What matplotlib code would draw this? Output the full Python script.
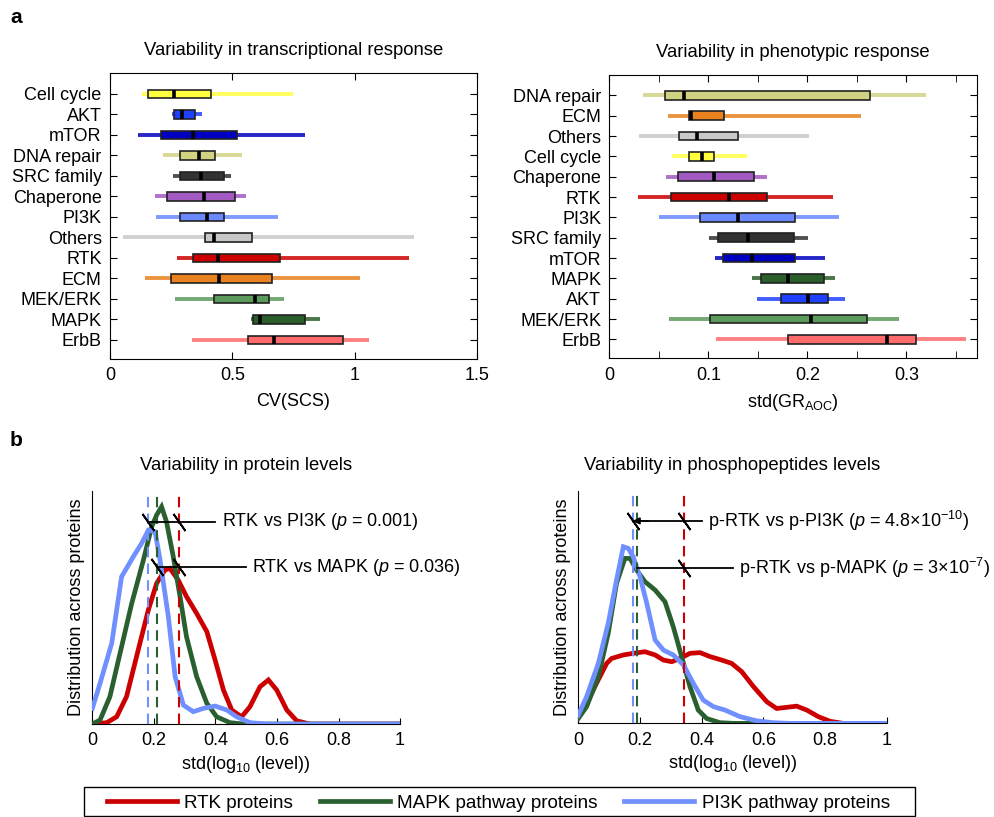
import matplotlib.pyplot as plt
from matplotlib.lines import Line2D
from matplotlib.patches import Rectangle

plt.rcParams['font.family'] = ['Liberation Sans', 'DejaVu Sans']
plt.rcParams['mathtext.fontset'] = 'custom'
plt.rcParams['mathtext.rm'] = 'Liberation Sans'
plt.rcParams['mathtext.it'] = 'Liberation Sans:italic'

# ---- panel a: transcriptional variability (CV(SCS)) ----
tr_groups = ['Cell cycle', 'AKT', 'mTOR', 'DNA repair', 'SRC family', 'Chaperone', 'PI3K',
             'Others', 'RTK', 'ECM', 'MEK/ERK', 'MAPK', 'ErbB']
tr_lo = [0.129, 0.252, 0.114, 0.218, 0.256, 0.185, 0.189, 0.054, 0.274, 0.142, 0.267, 0.578, 0.335]
tr_q1 = [0.154, 0.260, 0.210, 0.285, 0.285, 0.232, 0.285, 0.387, 0.341, 0.251, 0.425, 0.586, 0.563]
tr_med = [0.260, 0.293, 0.338, 0.365, 0.372, 0.384, 0.398, 0.426, 0.440, 0.447, 0.594, 0.612, 0.672]
tr_q3 = [0.414, 0.346, 0.518, 0.431, 0.466, 0.512, 0.466, 0.582, 0.695, 0.662, 0.651, 0.797, 0.954]
tr_hi = [0.747, 0.376, 0.796, 0.538, 0.495, 0.554, 0.685, 1.244, 1.221, 1.020, 0.710, 0.857, 1.060]

# ---- panel a: phenotypic variability (std(GR_AOC)) ----
ph_groups = ['DNA repair', 'ECM', 'Others', 'Cell cycle', 'Chaperone', 'RTK', 'PI3K',
             'SRC family', 'mTOR', 'MAPK', 'AKT', 'MEK/ERK', 'ErbB']
ph_lo = [0.034, 0.0595, 0.030, 0.063, 0.0575, 0.0286, 0.0505, 0.101, 0.107, 0.144, 0.149, 0.060, 0.1076]
ph_q1 = [0.056, 0.080, 0.070, 0.080, 0.069, 0.0626, 0.092, 0.110, 0.115, 0.1527, 0.1736, 0.102, 0.1806]
ph_med = [0.0757, 0.0827, 0.0885, 0.0935, 0.1056, 0.1208, 0.130, 0.140, 0.1436, 0.1806, 0.2005, 0.2038, 0.280]
ph_q3 = [0.263, 0.116, 0.130, 0.106, 0.146, 0.159, 0.187, 0.186, 0.187, 0.217, 0.221, 0.2607, 0.3094]
ph_hi = [0.320, 0.254, 0.202, 0.139, 0.159, 0.226, 0.2324, 0.2005, 0.218, 0.228, 0.2385, 0.293, 0.360]

group_colors = {
    'Cell cycle': '#ffff40', 'AKT': '#2040ff', 'mTOR': '#0000c0', 'DNA repair': '#d2d283',
    'SRC family': '#333333', 'Chaperone': '#a359c2', 'PI3K': '#6a88ff', 'Others': '#c8c8c8',
    'RTK': '#cc0000', 'ECM': '#e8811e', 'MEK/ERK': '#5c9a5c', 'MAPK': '#2a5e2a', 'ErbB': '#ff6a6a',
}

# ---- panel b: densities, protein levels ----
prot_rtk_x = [0, 0.047, 0.079, 0.111, 0.149, 0.182, 0.209, 0.236, 0.252, 0.279, 0.306, 0.339, 0.372,
              0.399, 0.426, 0.453, 0.485, 0.512, 0.545, 0.572, 0.599, 0.632, 0.664, 0.707, 1.0]
prot_rtk_y = [0, 0.006, 0.031, 0.117, 0.317, 0.489, 0.603, 0.660, 0.667, 0.617, 0.546, 0.474, 0.396,
              0.274, 0.146, 0.060, 0.031, 0.074, 0.160, 0.189, 0.146, 0.060, 0.014, 0, 0]
prot_mapk_x = [0, 0.025, 0.057, 0.090, 0.128, 0.166, 0.193, 0.209, 0.225, 0.241, 0.263, 0.285, 0.306,
               0.339, 0.372, 0.404, 0.447, 0.490, 1.0]
prot_mapk_y = [0, 0.017, 0.117, 0.303, 0.517, 0.703, 0.846, 0.896, 0.931, 0.867, 0.717, 0.546, 0.374,
               0.203, 0.089, 0.031, 0.006, 0, 0]
prot_pi3k_x = [0, 0.025, 0.063, 0.095, 0.133, 0.160, 0.182, 0.204, 0.220, 0.247, 0.269, 0.296, 0.328,
               0.361, 0.399, 0.437, 0.469, 0.512, 0.567, 1.0]
prot_pi3k_y = [0.067, 0.174, 0.346, 0.631, 0.717, 0.774, 0.831, 0.824, 0.703, 0.460, 0.203, 0.081, 0.053,
               0.067, 0.077, 0.060, 0.031, 0.006, 0, 0]
prot_means = [0.280, 0.209, 0.182]  # RTK, MAPK, PI3K

# ---- panel b: densities, phosphopeptide levels ----
phos_rtk_x = [0, 0.027, 0.059, 0.092, 0.108, 0.146, 0.178, 0.216, 0.249, 0.276, 0.303, 0.330, 0.362,
              0.395, 0.427, 0.465, 0.497, 0.530, 0.568, 0.611, 0.643, 0.676, 0.708, 0.741, 0.778,
              0.816, 0.859, 1.0]
phos_rtk_y = [0.036, 0.086, 0.172, 0.258, 0.279, 0.294, 0.301, 0.308, 0.294, 0.272, 0.265, 0.279, 0.301,
              0.304, 0.287, 0.272, 0.258, 0.222, 0.158, 0.093, 0.064, 0.069, 0.074, 0.057, 0.029,
              0.009, 0, 0]
phos_mapk_x = [0, 0.027, 0.065, 0.097, 0.124, 0.151, 0.168, 0.189, 0.216, 0.249, 0.281, 0.308, 0.335,
               0.362, 0.389, 0.416, 0.459, 0.503, 1.0]
phos_mapk_y = [0.021, 0.072, 0.200, 0.387, 0.602, 0.709, 0.709, 0.659, 0.609, 0.573, 0.523, 0.415, 0.287,
               0.158, 0.057, 0.021, 0.003, 0, 0]
phos_pi3k_x = [0, 0.027, 0.065, 0.097, 0.124, 0.146, 0.162, 0.178, 0.200, 0.222, 0.249, 0.276, 0.308,
               0.341, 0.373, 0.405, 0.438, 0.476, 0.524, 0.578, 0.632, 0.686, 1.0]
phos_pi3k_y = [0.036, 0.115, 0.258, 0.430, 0.616, 0.759, 0.752, 0.716, 0.630, 0.516, 0.358, 0.315, 0.294,
               0.251, 0.172, 0.100, 0.072, 0.057, 0.029, 0.011, 0.003, 0, 0]
phos_means = [0.343, 0.191, 0.176]

curve_colors = ['#cc0000', '#2a6030', '#7090ff']
legend_labels = ['RTK proteins', 'MAPK pathway proteins', 'PI3K pathway proteins']

FS = 13

fig = plt.figure(figsize=(9.95, 8.17), dpi=100)


def box_panel(ax, groups, lo, q1, med, q3, hi, xmax, xticks, xlabel, title):
    ys = list(range(len(groups)))
    for i, g in enumerate(groups):
        c = group_colors[g]
        ax.hlines(ys[i], lo[i], hi[i], color=c, lw=2.8, alpha=0.85, zorder=2)
    cols = [group_colors[g] for g in groups]
    ax.barh(ys, [b - a for a, b in zip(q1, q3)], left=q1, height=0.42, color=cols,
            edgecolor='#222222', linewidth=1.2, zorder=3)
    ax.vlines(med, [y - 0.21 for y in ys], [y + 0.21 for y in ys], color='black', lw=2.6, zorder=4)
    ax.set_yticks(ys)
    ax.set_yticklabels(groups, fontsize=FS)
    ax.set_ylim(12.93, -1.02)
    ax.set_xlim(0, xmax)
    ax.set_xticks(xticks)
    ax.set_xticklabels([f'{t:g}' for t in xticks], fontsize=FS)
    ax.tick_params(direction='in', top=True, right=True, length=5, pad=6)
    ax.set_xlabel(xlabel, fontsize=FS, labelpad=6)
    ax.set_title(title, fontsize=13.3, pad=13)


ax1 = fig.add_axes([0.1106, 0.5606, 0.3688, 0.350])
box_panel(ax1, tr_groups, tr_lo, tr_q1, tr_med, tr_q3, tr_hi, 1.5, [0, 0.5, 1, 1.5],
          'CV(SCS)', 'Variability in transcriptional response')

ax2 = fig.add_axes([0.6124, 0.5614, 0.3692, 0.3472])
box_panel(ax2, ph_groups, ph_lo, ph_q1, ph_med, ph_q3, ph_hi, 0.371, [0, 0.1, 0.2, 0.3],
          r'std(GR$_{\mathrm{AOC}}$)', 'Variability in phenotypic response')
ax2.set_xticks([0.05, 0.15, 0.25, 0.35], minor=True)
ax2.tick_params(which='minor', direction='in', top=True, length=5)


def density_panel(ax, curves, means, title, notes):
    for (x, y), c in zip(curves, curve_colors):
        ax.plot(x, y, color=c, lw=3.4, solid_joinstyle='miter', zorder=3)
    for m, c in zip(means, curve_colors):
        ax.plot([m, m], [0, 0.99], color=c, lw=1.5, dashes=(5, 3), zorder=4)
    for y, x_left, x_marks, x_end, text, arrow in notes:
        ax.plot([x_left, x_end], [y, y], color='black', lw=1.3, zorder=5)
        ax.plot(x_marks, [y] * len(x_marks), ls='none', marker=(2, 2, 35), ms=15,
                mec='black', mew=1.3, zorder=5)
        if arrow:
            ax.annotate('', xy=(x_left, y), xytext=(x_left + 0.05, y),
                        arrowprops=dict(arrowstyle='-|>', color='black', lw=1.2,
                                        mutation_scale=10, shrinkA=0, shrinkB=0), zorder=5)
        ax.text(x_end + 0.02, y, text, fontsize=FS, va='center', ha='left', clip_on=False)
    ax.set_xlim(0, 1)
    ax.set_ylim(0, 1)
    ax.set_xticks([0, 0.2, 0.4, 0.6, 0.8, 1])
    ax.set_xticklabels(['0', '0.2', '0.4', '0.6', '0.8', '1'], fontsize=FS)
    ax.set_yticks([])
    ax.tick_params(direction='in', length=4, pad=6)
    for s in ['top', 'right']:
        ax.spines[s].set_visible(False)
    ax.set_xlabel(r'std(log$_{10}$ (level))', fontsize=FS, labelpad=3)
    ax.set_ylabel('Distribution across proteins', fontsize=FS, labelpad=5)
    ax.set_title(title, fontsize=13.3, pad=15)


ax3 = fig.add_axes([0.0928, 0.1138, 0.3093, 0.2856])
density_panel(ax3,
              [(prot_rtk_x, prot_rtk_y), (prot_mapk_x, prot_mapk_y), (prot_pi3k_x, prot_pi3k_y)],
              prot_means, 'Variability in protein levels',
              [(0.867, 0.182, [0.182, 0.280], 0.40, r'RTK vs PI3K ($p$ = 0.001)', False),
               (0.671, 0.209, [0.209, 0.280], 0.50, r'RTK vs MAPK ($p$ = 0.036)', False)])

ax4 = fig.add_axes([0.5812, 0.1146, 0.3100, 0.2848])
density_panel(ax4,
              [(phos_rtk_x, phos_rtk_y), (phos_mapk_x, phos_mapk_y), (phos_pi3k_x, phos_pi3k_y)],
              phos_means, 'Variability in phosphopeptides levels',
              [(0.870, 0.176, [0.176, 0.343], 0.40,
                r'p-RTK vs p-PI3K ($p$ = 4.8×10$^{\mathrm{-10}}$)', True),
               (0.666, 0.191, [0.343], 0.50,
                r'p-RTK vs p-MAPK ($p$ = 3×10$^{\mathrm{-7}}$)', False)])

fig.text(0.010, 0.978, 'a', fontsize=15, fontweight='bold', va='center')
fig.text(0.010, 0.461, 'b', fontsize=15, fontweight='bold', va='center')

# legend: entries spread across a fixed width, frame drawn separately
handles = [Line2D([0], [0], color=c, lw=3.4) for c in curve_colors]
leg = fig.legend(handles, legend_labels, loc='center', ncol=3, mode='expand',
                 bbox_to_anchor=(107 / 995, 0.0, (890 - 107) / 995, 2 * 14 / 817), fontsize=13.6,
                 frameon=False, handlelength=3.7, handletextpad=0.4, borderpad=0,
                 borderaxespad=0)
fig.add_artist(Rectangle((84 / 995, 1 / 817), (915 - 84) / 995, (816 - 787) / 817,
                         transform=fig.transFigure, fill=False, edgecolor='black', lw=1.0))

fig.savefig('out.png', dpi=100)
